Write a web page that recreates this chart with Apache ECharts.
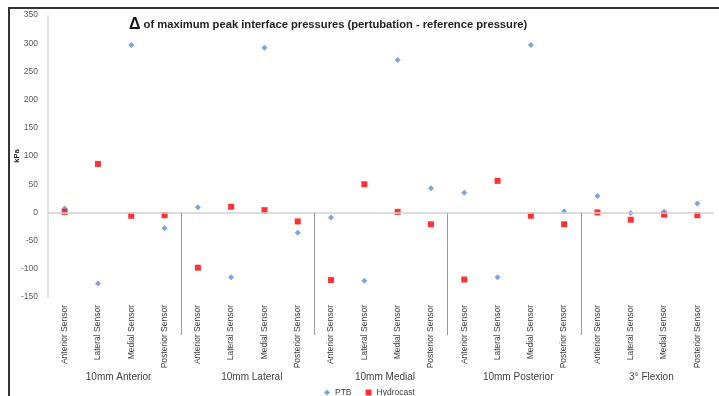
<!DOCTYPE html>
<html>
<head>
<meta charset="utf-8">
<script src="https://cdn.jsdelivr.net/npm/echarts@6/dist/echarts.min.js"></script>
<style>
  body { margin: 0; background: #fff; }
  #chart { width: 719px; height: 396px; }
  #frame { position: absolute; left: 8px; top: 7px; width: 720px; height: 400px;
    border-left: 2px solid #333; border-top: 2px solid #333; pointer-events: none; }
</style>
</head>
<body>
<div id="chart"></div>
<div id="frame"></div>
<script>
// sensors repeated for each perturbation group
var groups = ['10mm Anterior', '10mm Lateral', '10mm Medial', '10mm Posterior', '3° Flexion'];
var sensors = ['Anterior Sensor', 'Lateral Sensor', 'Medial Sensor', 'Posterior Sensor'];
var categories = [];
groups.forEach(function () { categories = categories.concat(sensors); });

// kPa values
var ptb = [7, -126, 297, -28, 9, -115, 292, -36, -9, -121, 270, 43, 35, -115, 297, 2, 29, -1, 1, 16];
var hydrocast = [1, 86, -6, -5, -98, 10, 4, -16, -120, 50, 1, -21, -119, 56, -6, -21, 0, -13, -4, -5];

var yTicks = { min: -150, max: 350, step: 50 };

var chart = echarts.init(document.getElementById('chart'));
var font = 'Liberation Sans';

chart.setOption({
  animation: false,
  textStyle: { fontFamily: font },
  title: {
    text: '{d|Δ} of maximum peak interface pressures (pertubation - reference pressure)',
    left: 124,
    top: 12,
    textStyle: {
      fontSize: 11.2, fontWeight: 'bold', color: '#222',
      rich: { d: { fontSize: 16, fontWeight: 'bold', color: '#111' } }
    }
  },
  legend: {
    data: ['PTB', 'Hydrocast'],
    left: 319,
    top: 383,
    itemWidth: 6,
    itemHeight: 6,
    itemGap: 14,
    textStyle: { fontSize: 8.5, color: '#404040' }
  },
  grid: [
    { left: 48, right: 5, top: 15, height: 282, outerBoundsMode: 'none' },
    { left: 48, right: 5, top: 212, height: 123, outerBoundsMode: 'none' }
  ],
  xAxis: [
    {
      type: 'category',
      gridIndex: 0,
      data: categories,
      axisLine: { show: false },
      axisTick: { show: false },
      axisLabel: { rotate: 90, interval: 0, margin: 8, fontSize: 8.5, color: '#404040' }
    },
    {
      type: 'category',
      gridIndex: 1,
      data: groups,
      axisLine: { show: false },
      axisTick: { show: false },
      axisLabel: { interval: 0, margin: 37, fontSize: 10, color: '#404040', padding: [0, 0, 0, 8] },
      splitLine: {
        show: true, interval: 0, showMinLine: false, showMaxLine: false,
        lineStyle: { color: '#999', width: 1 }
      }
    }
  ],
  yAxis: [
    {
      type: 'value',
      gridIndex: 0,
      min: yTicks.min,
      max: yTicks.max,
      interval: yTicks.step,
      name: 'kPa',
      nameLocation: 'middle',
      nameRotate: 90,
      nameGap: 27,
      nameMoveOverlap: false,
      nameTextStyle: { fontSize: 7.5, fontWeight: 'bold', color: '#222' },
      axisLine: { show: true, lineStyle: { color: '#d9d9d9', width: 1.5 } },
      axisTick: { show: false },
      splitLine: { show: false },
      axisLabel: { margin: 10, fontSize: 8.5, color: '#595959' }
    },
    {
      type: 'value',
      gridIndex: 1,
      show: false
    }
  ],
  series: [
    {
      name: 'PTB',
      type: 'scatter',
      data: ptb,
      symbol: 'diamond',
      symbolSize: 6,
      itemStyle: { color: '#5b8ed6' },
      markLine: {
        silent: true,
        symbol: 'none',
        label: { show: false },
        lineStyle: { color: '#d0d0d0', width: 1.5, type: 'solid' },
        data: [{ yAxis: 0 }]
      }
    },
    {
      name: 'Hydrocast',
      type: 'scatter',
      data: hydrocast,
      symbol: 'rect',
      symbolSize: 6,
      itemStyle: { color: '#ff0000' }
    }
  ]
});
</script>
</body>
</html>
